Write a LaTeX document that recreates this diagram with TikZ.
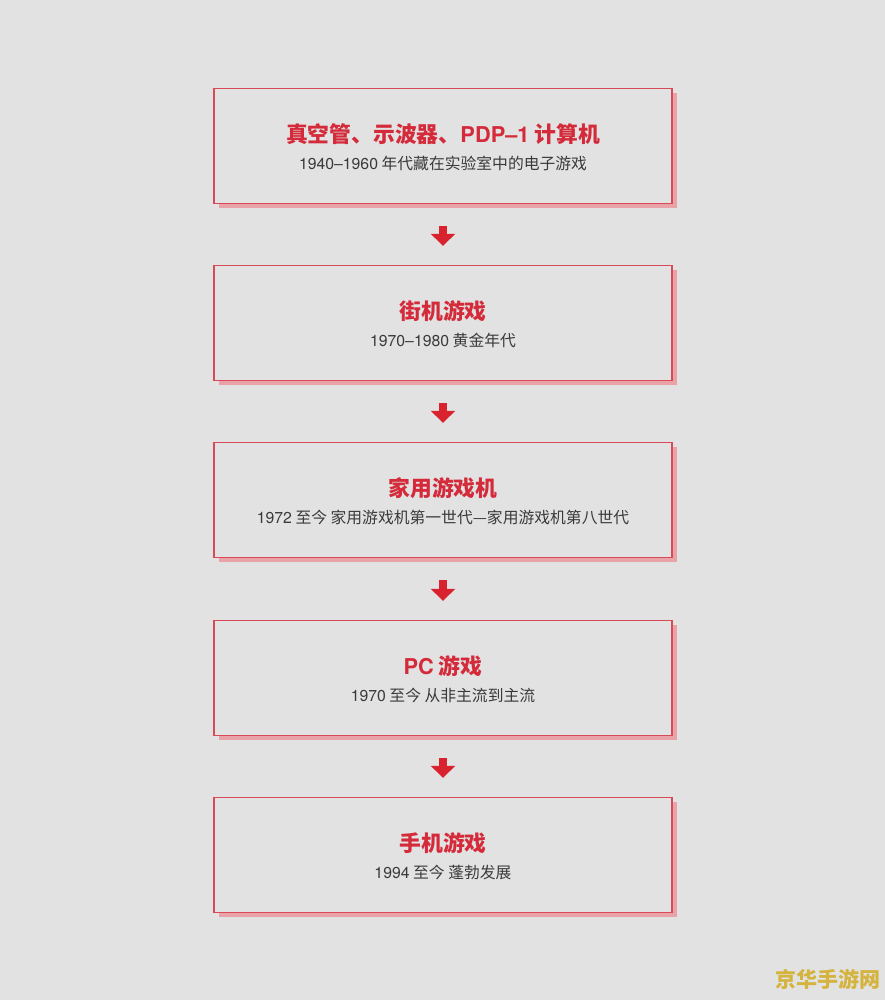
\documentclass[tikz,border=0pt]{standalone}
\usepackage{fontspec}
\setmainfont{Noto Sans CJK SC}
\newfontfamily\latinface{TeX Gyre Heros}
\usetikzlibrary{arrows.meta,shadows}
\definecolor{pagebg}{HTML}{E2E2E2}
\definecolor{boxline}{HTML}{D84A58}
\definecolor{boxshade}{HTML}{E8A2A8}
\definecolor{titlered}{HTML}{D42A3A}
\definecolor{arrowred}{HTML}{D8232F}
\definecolor{subgray}{HTML}{3A3A3A}
\definecolor{markgold}{HTML}{D4B33E}
\newcommand{\lt}[1]{{\latinface #1}}
\tikzset{
    era/.style={draw=boxline,line width=1.4pt,fill=pagebg,minimum width=458pt,minimum height=115pt,
        copy shadow={shadow xshift=4.5pt,shadow yshift=-4.5pt,fill=boxshade,draw=none}},
    eratitle/.style={text=titlered,font=\fontsize{21.8}{25}\selectfont\bfseries},
    erasub/.style={text=subgray,font=\fontsize{15.8}{18}\selectfont},
    nextera/.style={arrowred,line width=8pt,-{Triangle[width=24pt,length=12pt]},shorten <=22pt,shorten >=19pt}
}
\begin{document}
\begin{tikzpicture}[x=1pt,y=1pt]
            \fill[pagebg] (0,0) rectangle (885,-1000);
            \useasboundingbox (0,0) rectangle (885,-1000);
            % stages
            \node[era] (e1) at (443,-146) {};
            \node[era] (e2) at (443,-323) {};
            \node[era] (e3) at (443,-500) {};
            \node[era] (e4) at (443,-678) {};
            \node[era] (e5) at (443,-855) {};
            \node[eratitle] (t1) at (443,-134) {真空管、示波器、\lt{PDP–1} 计算机};
            \node[erasub] (s1) at (443,-163) {\lt{1940–1960} 年代藏在实验室中的电子游戏};
            \node[eratitle] (t2) at (443,-311) {街机游戏};
            \node[erasub] (s2) at (443,-340) {\lt{1970–1980} 黄金年代};
            \node[eratitle] (t3) at (443,-488) {家用游戏机};
            \node[erasub] (s3) at (443,-517) {\lt{1972} 至今 家用游戏机第一世代—家用游戏机第八世代};
            \node[eratitle] (t4) at (443,-666) {\lt{PC} 游戏};
            \node[erasub] (s4) at (443,-695) {\lt{1970} 至今 从非主流到主流};
            \node[eratitle] (t5) at (443,-843) {手机游戏};
            \node[erasub] (s5) at (443,-872) {\lt{1994} 至今 蓬勃发展};
            % arrows
            \draw[nextera] (e1.south) -- (e2.north);
            \draw[nextera] (e2.south) -- (e3.north);
            \draw[nextera] (e3.south) -- (e4.north);
            \draw[nextera] (e4.south) -- (e5.north);
            % watermark
            \node[text=markgold,font=\fontsize{21}{24}\selectfont\bfseries] (mark) at (828,-979) {京华手游网};
\end{tikzpicture}
\end{document}
